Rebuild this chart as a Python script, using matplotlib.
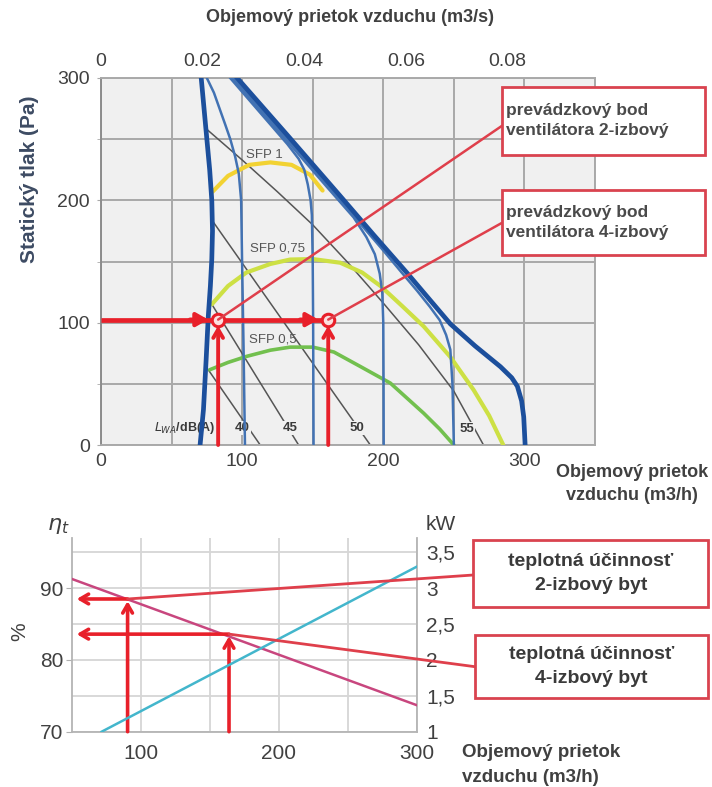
import matplotlib
matplotlib.use('Agg')
import matplotlib.pyplot as plt
from matplotlib.patches import Rectangle, ConnectionPatch

plt.rcParams['font.family'] = ['Liberation Sans', 'DejaVu Sans']
plt.rcParams['mathtext.fontset'] = 'dejavusans'

# ---------------- data : upper chart (flow m3/h, static pressure Pa) ----------
fan1_q = [71, 73, 75, 77, 78.5, 79, 78.5, 77.5, 76, 74.5, 72.6, 70.2]
fan1_p = [300, 275, 250, 225, 200, 175, 152, 130, 105, 70, 29, 0]
fan2_q = [75, 80, 84, 88, 91.6, 95, 97.6, 99.3, 100, 101, 102]
fan2_p = [300, 288, 275, 262, 250, 236, 222, 200, 147, 80, 0]
fan3_q = [91.5, 105, 120, 132, 140, 144, 146.5, 148.5, 149.4, 150, 150.3, 150.6]
fan3_p = [300, 282, 262, 246, 234, 225, 213, 200, 188, 150, 100, 0]
fan4_q = [93, 130, 160, 179, 188, 194, 197.5, 199.3, 200, 200.2, 200.3]
fan4_p = [300, 251, 211, 186, 170, 156, 140, 124, 100, 50, 0]
fan5_q = [94.5, 130, 165, 200, 213, 224, 233, 240, 244.5, 247.5, 249, 250]
fan5_p = [300, 253, 206, 159, 141, 126, 113, 102, 90, 78, 50, 0]
fan6_q = [96.5, 133, 169.5, 193, 216.8, 232, 247.5, 265, 283, 291, 295, 298, 299.5, 300.5]
fan6_p = [300, 252, 203.5, 172, 140.7, 120, 99, 81, 64, 55, 48, 36, 23, 0]

sfp1_q = [79, 90, 105, 120, 135, 148, 157]
sfp1_p = [207, 220, 229, 231, 229, 221, 208]
sfp075_q = [78.5, 90, 103, 120, 134, 150, 169.5, 185, 198, 213, 228.6, 247.5, 264, 275, 285]
sfp075_p = [115, 130, 141, 148, 151.6, 152, 149, 141, 130, 114, 97, 72, 45, 24, 0]
sfp05_q = [77, 90, 103, 120, 134, 150, 165, 184, 205, 228.6, 240, 250]
sfp05_p = [61.5, 67.5, 72.4, 77.5, 80, 80, 76, 64, 50.6, 26, 13, 0]

n40_q, n40_p = [76, 112.8], [61.5, 0]
n45_q, n45_p = [78, 140], [116, 0]
n50_q, n50_p = [78.5, 190.8], [184, 0]
n55_q = [75, 100, 125, 150, 175, 200, 225, 250, 271]
n55_p = [258, 233, 207, 180, 149, 116, 82, 44, 0]
noise_labels = ['40', '45', '50', '55']
noise_label_q = [100, 134, 181, 259]
noise_label_p = [14, 14, 14, 13]

sfp_labels = ['SFP 1', 'SFP 0,75', 'SFP 0,5']
sfp_label_q = [116, 125, 122]
sfp_label_p = [237, 161, 86]

op_q = [83, 161]          # operating points (2-room, 4-room)
op_p = [102.5, 102.5]

x_ticks_top = [0, 100, 200, 300]
y_ticks_top = [0, 100, 200, 300]
sec_ticks = [0, 0.02, 0.04, 0.06, 0.08]
sec_labels = ['0', '0.02', '0.04', '0.06', '0.08']

# ---------------- data : lower chart ----------------------------------------
eff_q = [50, 300]
eff_pct = [91.3, 73.7]
pow_q = [71.7, 300]
pow_kw = [1.0, 3.3]
op2_q = [90.5, 164]
op2_eff = [88.5, 83.6]
x_ticks_low = [100, 200, 300]
y_ticks_low = [70, 80, 90]
kw_ticks = [1, 1.5, 2, 2.5, 3, 3.5]
kw_labels = ['1', '1,5', '2', '2,5', '3', '3,5']

# ---------------- figure -----------------------------------------------------
W, H = 712, 787
def fx(px): return px / W
def fy(py): return 1 - py / H

fig = plt.figure(figsize=(W / 100, H / 100), dpi=100)
fig.patch.set_facecolor('white')

RED = '#e8202a'
RED_L = '#df3f4b'
TXT = '#404040'
NAVY = '#1c4f9c'
BLUE = '#4272b3'
GRID = '#a9a9a9'

# ---------------- upper chart -----------------------------------------------
ax1 = fig.add_axes([fx(101), fy(445), fx(595) - fx(101), fy(78) - fy(445)])
ax1.set_facecolor('#f0f0f0')
ax1.set_xlim(0, 350)
ax1.set_ylim(0, 300)
ax1.set_xticks(x_ticks_top)
ax1.set_xticks([50, 150, 250, 350], minor=True)
ax1.set_yticks(y_ticks_top)
ax1.set_yticks([50, 150, 250], minor=True)
ax1.grid(True, which='both', color=GRID, lw=1.4)
ax1.set_axisbelow(True)
ax1.tick_params(axis='both', which='both', length=3, color=GRID, labelsize=14,
                labelcolor=TXT, pad=5)
ax1.tick_params(axis='x', which='both', length=0, pad=6)
for s in ax1.spines.values():
    s.set_color(GRID)
    s.set_linewidth(1.4)
ax1.spines['left'].set_color('#8c8c8c')

sec = ax1.secondary_xaxis('top', functions=(lambda q: q / 3600.0, lambda s: s * 3600.0))
sec.set_xticks(sec_ticks)
sec.set_xticklabels(sec_labels)
sec.tick_params(length=0, labelsize=14, labelcolor=TXT, pad=6)
sec.spines['top'].set_visible(False)

# noise lines
for q, p in [(n40_q, n40_p), (n45_q, n45_p), (n50_q, n50_p), (n55_q, n55_p)]:
    ax1.plot(q, p, color='#555555', lw=1.1, zorder=2)
for lab, q, p in zip(noise_labels, noise_label_q, noise_label_p):
    ax1.text(q, p, lab, fontsize=9.5, weight='bold', color='#3a3a3a', ha='center',
             va='center', zorder=3,
             bbox=dict(boxstyle='square,pad=0.1', fc='#f0f0f0', ec='none'))
ax1.text(59, 14, r'$L_{WA}$/dB(A)', fontsize=9, weight='bold', color='#3a3a3a',
         ha='center', va='center', zorder=3)

# SFP curves
ax1.plot(sfp1_q, sfp1_p, color='#f2d232', lw=3, zorder=3, solid_capstyle='round')
ax1.plot(sfp075_q, sfp075_p, color='#cde044', lw=3, zorder=3, solid_capstyle='round')
ax1.plot(sfp05_q, sfp05_p, color='#72c04e', lw=2.6, zorder=3, solid_capstyle='round')
for lab, q, p in zip(sfp_labels, sfp_label_q, sfp_label_p):
    ax1.text(q, p, lab, fontsize=9.5, color='#555555', ha='center', va='center', zorder=3)

# fan curves
for q, p in [(fan2_q, fan2_p), (fan3_q, fan3_p), (fan4_q, fan4_p), (fan5_q, fan5_p)]:
    ax1.plot(q, p, color=BLUE, lw=1.8, zorder=4)
ax1.plot(fan1_q, fan1_p, color=NAVY, lw=3.4, zorder=4)
ax1.plot(fan6_q, fan6_p, color=NAVY, lw=3.4, zorder=4)

# red operating point marks
ax1.plot([0, op_q[1]], [op_p[0], op_p[1]], color=RED, lw=3.4, zorder=6,
         solid_capstyle='butt')
for q, p in zip(op_q, op_p):
    ax1.annotate('', xy=(q - 7, p), xytext=(q - 20, p),
                 arrowprops=dict(arrowstyle='-|>,head_length=0.7,head_width=0.4',
                                 color=RED, lw=3, shrinkA=0, shrinkB=0), zorder=7)
    ax1.annotate('', xy=(q, p - 5), xytext=(q, 0),
                 arrowprops=dict(arrowstyle='->,head_length=0.6,head_width=0.35',
                                 color=RED, lw=2.8, shrinkA=0, shrinkB=0), zorder=7)
ax1.plot(op_q, op_p, 'o', ms=9, mfc='#fbe0e0', mec=RED, mew=2.2, zorder=8)

fig.text(fx(350), fy(18), 'Objemový prietok vzduchu (m3/s)', ha='center', va='center',
         fontsize=13, weight='bold', color=TXT)
fig.text(fx(30), fy(179), 'Statický tlak (Pa)', rotation=90, ha='center', va='center',
         fontsize=15, weight='bold', color='#3d4b63')
fig.text(fx(632), fy(484), 'Objemový prietok\nvzduchu (m3/h)', ha='center', va='center',
         fontsize=13, weight='bold', color=TXT, linespacing=1.45)

# boxes upper
upper_boxes = [((501.7, 86.7, 705, 155), 126, 'prevádzkový bod\nventilátora 2-izbový'),
               ((501.7, 190, 705, 255), 223, 'prevádzkový bod\nventilátora 4-izbový')]
for i, ((x0, y0, x1, y1), yhit, txt) in enumerate(upper_boxes):
    con = ConnectionPatch(xyA=(op_q[i], op_p[i]), coordsA=ax1.transData,
                          xyB=(fx(x0), fy(yhit)), coordsB=fig.transFigure,
                          color=RED_L, lw=1.8, zorder=9)
    fig.add_artist(con)
    fig.add_artist(Rectangle((fx(x0), fy(y1)), fx(x1) - fx(x0), fy(y0) - fy(y1),
                             transform=fig.transFigure, fc='white', ec='#d9434f',
                             lw=2, zorder=10))
    fig.text(fx(x0 + 4), fy((y0 + y1) / 2), txt, ha='left', va='center', fontsize=12.5,
             weight='bold', color='#4a4a4a', linespacing=1.4, zorder=11)

# ---------------- lower chart -----------------------------------------------
ax2 = fig.add_axes([fx(71.7), fy(731.7), fx(416.7) - fx(71.7), fy(538) - fy(731.7)])
ax2.set_facecolor('white')
ax2.set_xlim(50, 300)
ax2.set_ylim(70, 97)
ax2.set_xticks(x_ticks_low)
ax2.set_xticks([150, 250], minor=True)
ax2.set_yticks(y_ticks_low)
ax2.set_yticks([75, 85, 95], minor=True)
ax2.grid(True, which='both', color='#d6d6d6', lw=1.3)
ax2.set_axisbelow(True)
ax2.tick_params(axis='both', which='both', labelsize=15, labelcolor=TXT, color='#b0b0b0')
ax2.tick_params(axis='y', which='major', length=4, pad=2)
ax2.tick_params(axis='y', which='minor', length=0)
ax2.tick_params(axis='x', which='both', length=0, pad=9)
ax2.spines['top'].set_visible(False)
for s in ['left', 'bottom', 'right']:
    ax2.spines[s].set_color('#b4b4b4')
    ax2.spines[s].set_linewidth(1.3)

ax2r = ax2.twinx()
ax2r.set_ylim(1, 3.7)
ax2r.set_yticks(kw_ticks)
ax2r.set_yticklabels(kw_labels)
ax2r.tick_params(length=0, labelsize=15, labelcolor=TXT, pad=7)
for s in ax2r.spines.values():
    s.set_visible(False)

ax2.plot(eff_q, eff_pct, color='#c8467e', lw=1.8, zorder=3)
ax2r.plot(pow_q, pow_kw, color='#43b6cc', lw=1.8, zorder=3)

for i, (q, e) in enumerate(zip(op2_q, op2_eff)):
    ax2.annotate('', xy=(q, e - 0.3), xytext=(q, 70),
                 arrowprops=dict(arrowstyle='->,head_length=0.6,head_width=0.35',
                                 color=RED, lw=2.6, shrinkA=0, shrinkB=0), zorder=6)
    ax2.annotate('', xy=(53.6, e), xytext=(q, e),
                 arrowprops=dict(arrowstyle='->,head_length=0.6,head_width=0.35',
                                 color=RED, lw=2.6, shrinkA=0, shrinkB=0), zorder=6)

lower_boxes = [((473.3, 540, 708.3, 606.7), 575, 'teplotná účinnosť\n2-izbový byt'),
               ((475, 635, 708.3, 698.3), 666.7, 'teplotná účinnosť\n4-izbový byt')]
for i, ((x0, y0, x1, y1), yhit, txt) in enumerate(lower_boxes):
    con = ConnectionPatch(xyA=(op2_q[i], op2_eff[i]), coordsA=ax2.transData,
                          xyB=(fx(x0), fy(yhit)), coordsB=fig.transFigure,
                          color=RED_L, lw=2, zorder=9)
    fig.add_artist(con)
    fig.add_artist(Rectangle((fx(x0), fy(y1)), fx(x1) - fx(x0), fy(y0) - fy(y1),
                             transform=fig.transFigure, fc='white', ec='#d9434f',
                             lw=2, zorder=10))
    fig.text(fx((x0 + x1) / 2), fy((y0 + y1) / 2), txt, ha='center', va='center',
             fontsize=14, weight='bold', color='#3a3a3a', linespacing=1.5, zorder=11)

fig.text(fx(58), fy(526), r'$\eta_t$', ha='center', va='center', fontsize=16,
         color=TXT)
fig.text(fx(20), fy(632), '%', rotation=90, ha='center', va='center', fontsize=15,
         color=TXT)
fig.text(fx(441), fy(524), 'kW', ha='center', va='center', fontsize=15, color=TXT)
fig.text(fx(462), fy(765), 'Objemový prietok\nvzduchu (m3/h)', ha='left', va='center',
         fontsize=13.5, weight='bold', color=TXT, linespacing=1.55)

fig.savefig('out.png', dpi=100, facecolor='white')
